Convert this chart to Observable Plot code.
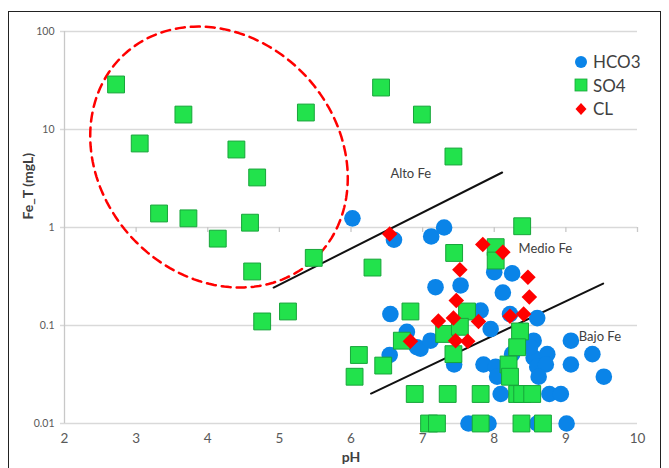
<!DOCTYPE html>
<html>
<head>
<meta charset="utf-8">
<script src="https://cdn.jsdelivr.net/npm/d3@7"></script>
<script src="https://cdn.jsdelivr.net/npm/@observablehq/plot@0.6"></script>
<style>
  html, body { margin: 0; padding: 0; background: #fff; }
  #wrap { position: relative; width: 669px; height: 468px; overflow: hidden; font-family: Lato, "Open Sans", sans-serif; }
  #border { position: absolute; left: 8px; top: 11px; width: 653px; height: 480px; border: 1px solid #222; box-sizing: border-box; pointer-events: none; }
  #legend { position: absolute; left: 574px; top: 50px; color: #404040; font-size: 17px; line-height: 23.5px; }
  #legend div { display: flex; align-items: center; }
  #legend svg { margin-right: 5px; }
</style>
</head>
<body>
<div id="wrap">
  <div id="chart"></div>
  <div id="border"></div>
  <div id="legend"></div>
</div>
<script>
// ---- data ----
const hco3Ph = [6.02, 6.60, 7.12, 7.30, 7.18, 7.53, 8.00, 8.25, 8.12, 6.55, 7.81, 8.22, 8.60, 6.78, 6.92, 6.97, 7.11, 7.95, 8.55, 9.07, 8.25, 8.55, 8.74, 9.37, 6.54, 7.44, 7.85, 8.02, 8.60, 8.72, 9.07, 9.53, 8.04, 8.62, 8.09, 8.77, 8.93, 7.64, 7.92, 8.60, 9.01, 8.50];
const hco3Fe = [1.24, 0.75, 0.81, 1.0, 0.246, 0.256, 0.35, 0.34, 0.217, 0.131, 0.142, 0.131, 0.119, 0.086, 0.060, 0.058, 0.070, 0.092, 0.070, 0.070, 0.051, 0.047, 0.051, 0.051, 0.050, 0.040, 0.040, 0.038, 0.038, 0.040, 0.040, 0.030, 0.030, 0.030, 0.020, 0.020, 0.020, 0.01, 0.01, 0.01, 0.01, 0.060];

const so4Ph = [2.72, 3.66, 3.05, 4.40, 5.37, 4.69, 3.32, 3.73, 4.59, 4.14, 4.62, 4.76, 5.12, 5.48, 6.42, 6.99, 7.43, 8.39, 7.44, 8.02, 8.02, 6.30, 6.83, 7.62, 7.30, 7.52, 8.36, 8.32, 8.20, 8.22, 6.71, 7.43, 6.11, 6.45, 6.05, 6.89, 7.35, 7.81, 8.32, 8.39, 8.53, 7.09, 7.20, 7.81, 8.38, 8.68];
const so4Fe = [28.8, 14.2, 7.2, 6.25, 14.9, 3.24, 1.39, 1.24, 1.12, 0.77, 0.356, 0.11, 0.139, 0.49, 26.8, 14.2, 5.3, 1.03, 0.55, 0.63, 0.46, 0.39, 0.139, 0.139, 0.082, 0.097, 0.087, 0.060, 0.040, 0.030, 0.070, 0.051, 0.050, 0.039, 0.030, 0.02, 0.02, 0.02, 0.02, 0.02, 0.02, 0.01, 0.01, 0.01, 0.01, 0.01];

const clPh = [6.54, 7.84, 8.12, 7.52, 8.47, 8.49, 7.47, 7.22, 7.43, 7.78, 8.22, 8.41, 6.83, 7.46, 7.63];
const clFe = [0.86, 0.67, 0.56, 0.37, 0.31, 0.195, 0.18, 0.111, 0.119, 0.110, 0.124, 0.131, 0.069, 0.070, 0.069];

const xTicks = [2, 3, 4, 5, 6, 7, 8, 9, 10];
const yTicks = [0.01, 0.1, 1, 10, 100];
const yTickLabels = ["0.01", "0.1", "1", "10", "100"];

// boundary lines (pH, Fe)
const altoLinePh = [4.92, 8.11];
const altoLineFe = [0.244, 3.64];
const bajoLinePh = [6.28, 9.52];
const bajoLineFe = [0.0202, 0.268];

// zone labels
const zoneNames = ["Alto Fe", "Medio Fe", "Bajo Fe"];
const zonePh = [6.55, 8.34, 9.18];
const zoneFe = [3.56, 0.60, 0.077];

// dashed (tilted) ellipse annotation: centre (pH, log10 Fe), semi-axes in screen px, tilt in degrees
const ellipseCenter = [4.157, 0.719];
const ellipseAxesPx = [139.7, 118.7];
const ellipseTiltDeg = 47.3;

const seriesNames = ["HCO3", "SO4", "CL"];
const seriesColors = ["#0a84e8", "#22e24c", "#ff0000"];

// ---- layout ----
const W = 669, H = 468, mL = 64, mR = 32, mT = 31, mB = 45;
const pxPerPh = (W - mL - mR) / 8;
const pxPerDecade = (H - mT - mB) / 4;

// ---- tables ----
const hco3 = hco3Ph.map((p, i) => ({ph: p, fe: hco3Fe[i]}));
const so4 = so4Ph.map((p, i) => ({ph: p, fe: so4Fe[i]}));
const cl = clPh.map((p, i) => ({ph: p, fe: clFe[i]}));
const altoLine = altoLinePh.map((p, i) => ({ph: p, fe: altoLineFe[i]}));
const bajoLine = bajoLinePh.map((p, i) => ({ph: p, fe: bajoLineFe[i]}));
const zones = zoneNames.map((n, i) => ({name: n, ph: zonePh[i], fe: zoneFe[i]}));
const th = ellipseTiltDeg * Math.PI / 180;
const ellipse = d3.range(0, 161).map(k => {
  const t = (k / 160) * 2 * Math.PI;
  const a = ellipseAxesPx[0], b = ellipseAxesPx[1];
  const dx = a * Math.cos(t) * Math.cos(th) - b * Math.sin(t) * Math.sin(th);
  const dy = a * Math.cos(t) * Math.sin(th) + b * Math.sin(t) * Math.cos(th); // screen y (down)
  return {ph: ellipseCenter[0] + dx / pxPerPh,
          fe: Math.pow(10, ellipseCenter[1] - dy / pxPerDecade)};
});

const chart = Plot.plot({
  width: W,
  height: H,
  marginLeft: mL,
  marginRight: mR,
  marginTop: mT,
  marginBottom: mB,
  style: {fontFamily: "Lato, 'Open Sans', sans-serif", background: "transparent", overflow: "visible"},
  x: {domain: [2, 10]},
  y: {type: "log", domain: [0.01, 100]},
  marks: [
    Plot.ruleY(yTicks, {stroke: "#d9d9d9", strokeWidth: 1.3, insetLeft: -4}),
    Plot.ruleX([2], {stroke: "#c8c8c8", strokeWidth: 1.3}),
    Plot.ruleX(xTicks.slice(1), {y1: 1, y2: 1, insetBottom: -5, stroke: "#c8c8c8", strokeWidth: 1.3}),
    Plot.axisY(yTicks, {tickSize: 0, tickPadding: 10, fontSize: 10.5, tickFormat: d => yTickLabels[yTicks.indexOf(d)], color: "#595959", label: null}),
    Plot.axisX(xTicks, {tickSize: 0, tickPadding: 10, fontSize: 13.5, tickFormat: d => String(d), color: "#595959", label: null}),
    Plot.text(["pH"], {frameAnchor: "bottom", dy: 38, fontSize: 14, fontWeight: "bold", fill: "#404040"}),
    Plot.text(["Fe_T (mgL)"], {frameAnchor: "left", dx: -36, dy: -8, rotate: -90, fontSize: 14, fontWeight: "bold", fill: "#404040"}),
    Plot.line(ellipse, {x: "ph", y: "fe", stroke: "#ff0000", strokeWidth: 2.5, strokeDasharray: "9,6"}),
    Plot.line(altoLine, {x: "ph", y: "fe", stroke: "#111", strokeWidth: 2}),
    Plot.line(bajoLine, {x: "ph", y: "fe", stroke: "#111", strokeWidth: 2}),
    Plot.dot(hco3, {x: "ph", y: "fe", r: 8.3, fill: seriesColors[0], stroke: "none"}),
    Plot.dot(so4, {x: "ph", y: "fe", symbol: "square", r: 9.5, fill: seriesColors[1], stroke: "#17a53a", strokeWidth: 1}),
    Plot.dot(cl, {x: "ph", y: "fe", symbol: "diamond2", r: 7, fill: seriesColors[2], stroke: "none"}),
    Plot.text(zones, {x: "ph", y: "fe", text: "name", textAnchor: "start", fontSize: 13, fill: "#404040"})
  ]
});
document.getElementById("chart").appendChild(chart);

// legend
const legend = document.getElementById("legend");
const legendShapes = [
  '<svg width="14" height="14"><circle cx="7" cy="7" r="6" fill="' + seriesColors[0] + '"/></svg>',
  '<svg width="14" height="14"><rect x="1" y="1" width="12" height="12" fill="' + seriesColors[1] + '" stroke="#17a53a" stroke-width="0.8"/></svg>',
  '<svg width="14" height="14"><path d="M7,1 L12.5,7 L7,13 L1.5,7 Z" fill="' + seriesColors[2] + '"/></svg>'
];
seriesNames.forEach((n, i) => {
  const row = document.createElement("div");
  row.innerHTML = legendShapes[i] + "<span>" + n + "</span>";
  legend.appendChild(row);
});
</script>
</body>
</html>
